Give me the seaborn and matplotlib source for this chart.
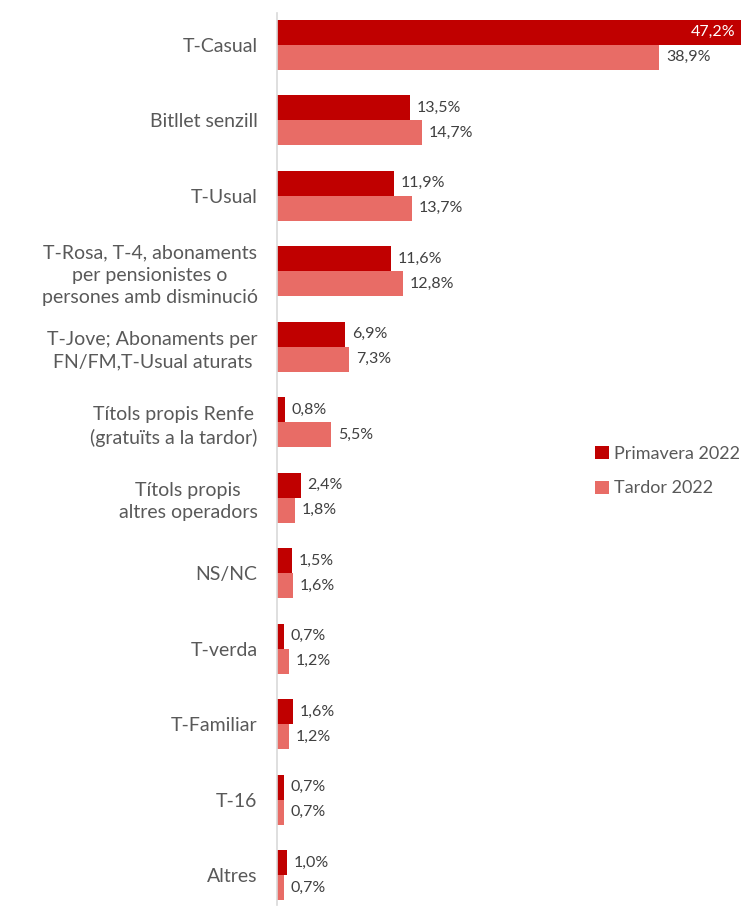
import seaborn as sns
import pandas as pd
import matplotlib.pyplot as plt

categories = ["T-Casual", "Bitllet senzill", "T-Usual",
              "T-Rosa, T-4, abonaments\nper pensionistes o\npersones amb disminució",
              "T-Jove; Abonaments per\nFN/FM,T-Usual aturats",
              "Títols propis Renfe\n(gratuïts a la tardor)",
              "Títols propis\naltres operadors",
              "NS/NC", "T-verda", "T-Familiar", "T-16", "Altres"]
primavera = [47.2, 13.5, 11.9, 11.6, 6.9, 0.8, 2.4, 1.5, 0.7, 1.6, 0.7, 1.0]
tardor = [38.9, 14.7, 13.7, 12.8, 7.3, 5.5, 1.8, 1.6, 1.2, 1.2, 0.7, 0.7]
series = ["Primavera 2022", "Tardor 2022"]
colors = ["#C00000", "#E86C66"]

rows = []
for i in range(len(categories)):
    rows.append({"cat": categories[i], "serie": series[0], "val": primavera[i]})
    rows.append({"cat": categories[i], "serie": series[1], "val": tardor[i]})
df = pd.DataFrame(rows)

sns.set_style("white")
plt.rcParams['font.family'] = ['Lato', 'DejaVu Sans']

fig = plt.figure(figsize=(7.46, 9.06), dpi=100)
# axes from y=7px to y=913px (top category centred at ~45px, step ~75px)
ax = fig.add_axes([277/746, -7/906, (741-277)/746, 906/906])

sns.barplot(data=df, y="cat", x="val", hue="serie", palette=colors,
            orient="h", width=0.66, ax=ax, saturation=1, legend=True,
            linewidth=0)

ax.set_xlim(0, 47.2)
ax.set_ylim(len(categories) - 0.5, -0.5)
ax.set_xlabel("")
ax.set_ylabel("")
ax.set_xticks([])
for s in ["top", "right", "bottom"]:
    ax.spines[s].set_visible(False)
ax.spines["left"].set_color("#D9D9D9")
ax.spines["left"].set_linewidth(1.2)
ax.spines["left"].set_bounds(len(categories) - 0.5 - 0.1, -0.42)

ax.tick_params(axis="y", length=0, pad=14, labelsize=14, labelcolor="#595959")
for lab in ax.get_yticklabels():
    lab.set_multialignment("center")
    lab.set_linespacing(1.35)

for ci, cont in enumerate(ax.containers):
    for bar in cont:
        w = bar.get_width()
        y = bar.get_y() + bar.get_height() / 2
        txt = f"{w:.1f}%".replace(".", ",")
        if w > 45:
            ax.text(w - 0.6, y, txt, ha="right", va="center", color="white", fontsize=11.5)
        else:
            ax.text(w + 0.7, y, txt, ha="left", va="center", color="#404040", fontsize=11.5)

leg = ax.legend(loc="center left", frameon=False, fontsize=13, handlelength=0.75,
                handleheight=0.75, labelspacing=1.05, handletextpad=0.3,
                borderaxespad=0, borderpad=0)
leg.set_bbox_to_anchor((595/746, 1 - 471/906), transform=fig.transFigure)
for t in leg.get_texts():
    t.set_color("#595959")

fig.savefig("out.png", dpi=100)
